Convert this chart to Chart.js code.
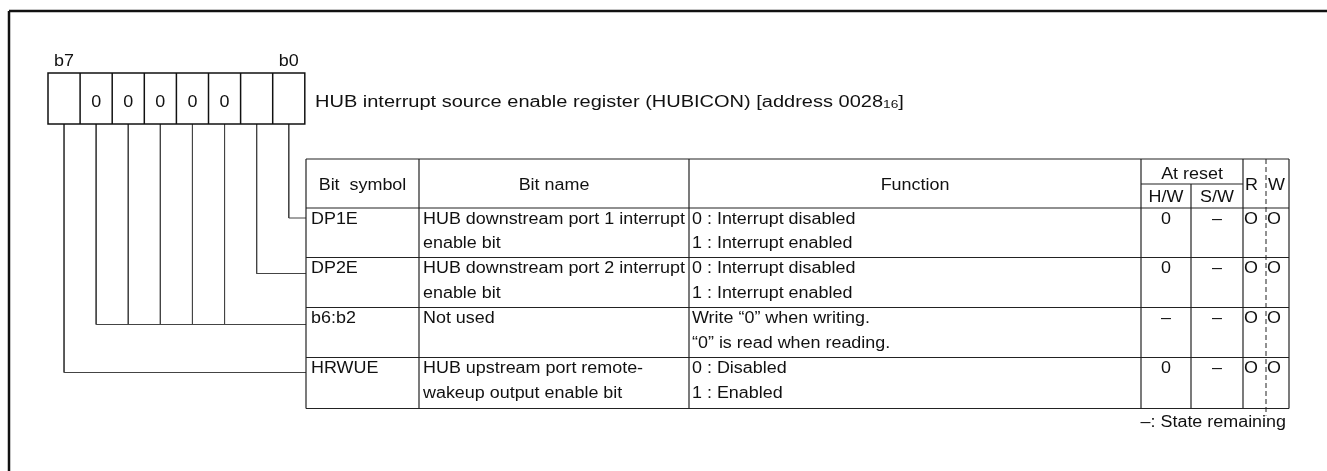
<!DOCTYPE html>
<html>
<head>
<meta charset="utf-8">
<script src="https://cdn.jsdelivr.net/npm/chart.js@4.4.1/dist/chart.umd.min.js"></script>
<style>
  html, body { margin: 0; padding: 0; background: #fff; }
  #wrap { width: 1327px; height: 471px; position: relative; }
</style>
</head>
<body>
<div id="wrap"><canvas id="regChart"></canvas></div>
<script>
// register bits, left to right (b7 .. b0)
const bitLabels = ["b7", "b6", "b5", "b4", "b3", "b2", "b1", "b0"];
const bitValues = ["", "0", "0", "0", "0", "0", "", ""];

const registerTitle = "HUB interrupt source enable register (HUBICON) [address 0028";
const addressBase = "16";

const headers = ["Bit  symbol", "Bit name", "Function", "At reset", "H/W", "S/W", "R", "W"];

// one entry per table row
const rowBits = [[0], [1], [6, 5, 4, 3, 2], [7]];
const bitSymbols = ["DP1E", "DP2E", "b6:b2", "HRWUE"];
const bitNames = [
  ["HUB downstream port 1 interrupt", "enable bit"],
  ["HUB downstream port 2 interrupt", "enable bit"],
  ["Not used"],
  ["HUB upstream port remote-", "wakeup output enable bit"]
];
const functions = [
  ["0 : Interrupt disabled", "1 : Interrupt enabled"],
  ["0 : Interrupt disabled", "1 : Interrupt enabled"],
  ["Write \u201c0\u201d when writing.", "\u201c0\u201d is read when reading."],
  ["0 : Disabled", "1 : Enabled"]
];
const resetHW = ["0", "0", "\u2013", "0"];
const resetSW = ["\u2013", "\u2013", "\u2013", "\u2013"];
const readable = ["O", "O", "O", "O"];
const writable = ["O", "O", "O", "O"];
const footnote = "\u2013: State remaining";

// drawing layout (in canvas units)
const L = {
  frameX: 9, frameY: 11,
  boxX: 48, boxTop: 73, boxBottom: 124, cellW: 32.1,
  titleX: 315, titleY: 106.5, titleSx: 1.25,
  cols: [306, 419, 689, 1141, 1191, 1243, 1289],
  rwSplit: 1266,
  headTop: 159, headMid: 184,
  rowTops: [208, 257.5, 307.5, 357.5], bottom: 408.5,
  line1: 15.5, line2: 40,
  leaderDy: [10, 16, 17, 15],
  footY: 427,
  font: 16, sx: 1.12
};

const FONT = '"Liberation Sans", Arial, sans-serif';

function bitX(bit) {
  // bit 7 is the leftmost cell
  return L.boxX + (7 - bit) * L.cellW + L.cellW / 2;
}

// leader lines from each bit cell to its table row
const leaderSets = [];
rowBits.forEach((bits, r) => {
  const ly = L.rowTops[r] + L.leaderDy[r];
  bits.forEach((b, i) => {
    const pts = [{ x: bitX(b), y: L.boxBottom }, { x: bitX(b), y: ly }];
    if (i === 0) pts.push({ x: L.cols[0], y: ly });
    leaderSets.push({
      data: pts, showLine: true, pointRadius: 0,
      borderColor: "#444", borderWidth: 1, fill: false
    });
  });
});

function txt(ctx, s, x, y, align, size, sx) {
  ctx.save();
  ctx.font = size + "px " + FONT;
  ctx.textAlign = align;
  ctx.textBaseline = "alphabetic";
  ctx.translate(x, y);
  ctx.scale(sx, 1);
  ctx.fillText(s, 0, 0);
  ctx.restore();
}

const registerPlugin = {
  id: "registerTable",
  afterDatasetsDraw(chart) {
    const ctx = chart.ctx;
    const X = v => chart.scales.x.getPixelForValue(v);
    const Y = v => chart.scales.y.getPixelForValue(v);
    const c = L.cols;
    const seg = (x1, y1, x2, y2) => {
      ctx.beginPath();
      ctx.moveTo(X(x1), Y(y1));
      ctx.lineTo(X(x2), Y(y2));
      ctx.stroke();
    };

    ctx.save();
    ctx.fillStyle = "#111";

    // outer frame (top and left edges)
    ctx.strokeStyle = "#111";
    ctx.lineWidth = 2.5;
    seg(L.frameX, 471, L.frameX, L.frameY);
    seg(L.frameX, L.frameY, 1327, L.frameY);

    // bit cells
    ctx.lineWidth = 1.5;
    ctx.strokeRect(X(L.boxX), Y(L.boxTop), L.cellW * 8, L.boxBottom - L.boxTop);
    for (let i = 1; i < 8; i++) {
      seg(L.boxX + i * L.cellW, L.boxTop, L.boxX + i * L.cellW, L.boxBottom);
    }
    bitValues.forEach((v, i) => {
      if (v) txt(ctx, v, X(bitX(7 - i)), Y(106.5), "center", L.font, L.sx);
    });
    txt(ctx, bitLabels[0], X(bitX(7)), Y(66), "center", L.font, L.sx);
    txt(ctx, bitLabels[7], X(bitX(0)), Y(66), "center", L.font, L.sx);

    // register title with subscript base
    const ts = L.titleSx;
    ctx.font = L.font + "px " + FONT;
    let tx = X(L.titleX);
    txt(ctx, registerTitle, tx, Y(L.titleY), "left", L.font, ts);
    tx += ctx.measureText(registerTitle).width * ts;
    ctx.font = "11px " + FONT;
    txt(ctx, addressBase, tx, Y(L.titleY + 1.5), "left", 11, ts);
    tx += ctx.measureText(addressBase).width * ts;
    txt(ctx, "]", tx, Y(L.titleY), "left", L.font, ts);

    // table grid
    ctx.strokeStyle = "#222";
    ctx.lineWidth = 1.2;
    const right = c[6];
    seg(c[0], L.headTop, right, L.headTop);
    L.rowTops.forEach(y => seg(c[0], y, right, y));
    seg(c[0], L.bottom, right, L.bottom);
    seg(c[3], L.headMid, c[5], L.headMid);
    c.forEach((x, i) => {
      const top = (i === 4) ? L.headMid : L.headTop;
      seg(x, top, x, L.bottom);
    });

    // R / W divider, dashed
    ctx.lineWidth = 1;
    ctx.setLineDash([5, 3]);
    seg(L.rwSplit, L.headTop, L.rwSplit, L.bottom + 7);
    ctx.setLineDash([]);

    // headers
    const mid = (a, b) => X((a + b) / 2);
    const hy = Y(190);
    txt(ctx, headers[0], mid(c[0], c[1]), hy, "center", L.font, L.sx);
    txt(ctx, headers[1], mid(c[1], c[2]), hy, "center", L.font, L.sx);
    txt(ctx, headers[2], mid(c[2], c[3]), hy, "center", L.font, L.sx);
    txt(ctx, headers[3], mid(c[3], c[5]), Y(179), "center", L.font, L.sx);
    txt(ctx, headers[4], mid(c[3], c[4]), Y(201.5), "center", L.font, L.sx);
    txt(ctx, headers[5], mid(c[4], c[5]), Y(201.5), "center", L.font, L.sx);
    txt(ctx, headers[6], X(c[5] + 2), hy, "left", L.font, L.sx);
    txt(ctx, headers[7], X(L.rwSplit + 2), hy, "left", L.font, L.sx);

    // rows
    L.rowTops.forEach((top, r) => {
      const y1 = Y(top + L.line1), y2 = Y(top + L.line2);
      txt(ctx, bitSymbols[r], X(c[0] + 5), y1, "left", L.font, L.sx);
      bitNames[r].forEach((s, k) => txt(ctx, s, X(c[1] + 4), k ? y2 : y1, "left", L.font, L.sx));
      functions[r].forEach((s, k) => txt(ctx, s, X(c[2] + 3), k ? y2 : y1, "left", L.font, L.sx));
      txt(ctx, resetHW[r], mid(c[3], c[4]), y1, "center", L.font, L.sx);
      txt(ctx, resetSW[r], mid(c[4], c[5]), y1, "center", L.font, L.sx);
      txt(ctx, readable[r], X(c[5] + 1), y1, "left", L.font, L.sx);
      txt(ctx, writable[r], X(L.rwSplit + 1), y1, "left", L.font, L.sx);
    });

    txt(ctx, footnote, X(c[6] - 3), Y(L.footY), "right", L.font, L.sx);
    ctx.restore();
  }
};

new Chart(document.getElementById("regChart"), {
  type: "scatter",
  data: { datasets: leaderSets },
  options: {
    responsive: true,
    maintainAspectRatio: false,
    animation: false,
    layout: { padding: 0 },
    plugins: { legend: { display: false }, tooltip: { enabled: false } },
    scales: {
      x: { type: "linear", min: 0, max: 1327, display: false },
      y: { type: "linear", min: 0, max: 471, reverse: true, display: false }
    }
  },
  plugins: [registerPlugin]
});
</script>
</body>
</html>
